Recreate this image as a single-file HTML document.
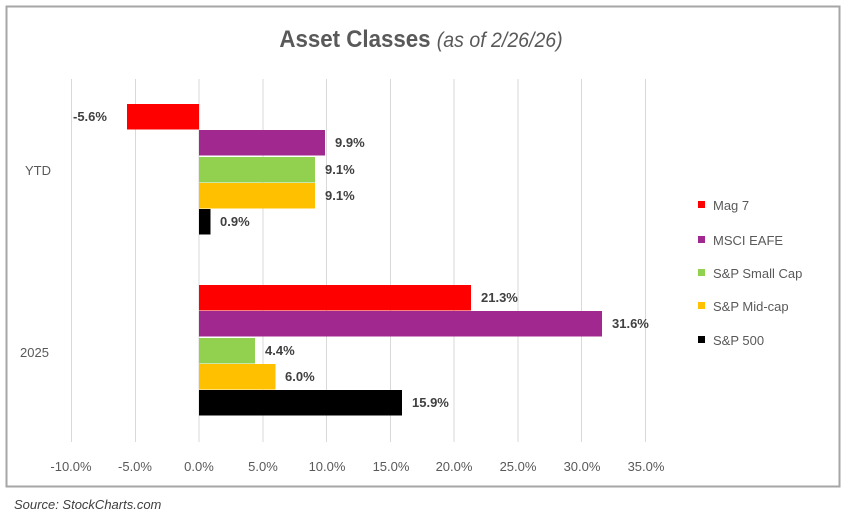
<!DOCTYPE html>
<html><head><meta charset="utf-8"><style>
body{margin:0;background:#fff;}
svg text{font-family:"Liberation Sans",sans-serif;}
</style></head><body>
<svg width="847" height="519" viewBox="0 0 847 519" xmlns="http://www.w3.org/2000/svg">
<rect x="0" y="0" width="847" height="519" fill="#fff"/>
<rect x="6.5" y="6.5" width="833" height="480" fill="#fff" stroke="#a6a6a6" stroke-width="2"/>
<text x="421" y="47" text-anchor="middle" font-size="24" font-weight="bold" fill="#595959" transform="translate(421,0) scale(0.93,1) translate(-421,0)">Asset Classes <tspan font-weight="normal" font-style="italic" font-size="21">(as of 2/26/26)</tspan></text>
<g stroke="#d9d9d9" stroke-width="1">
<line x1="71.5" y1="79" x2="71.5" y2="442"/><line x1="135.5" y1="79" x2="135.5" y2="442"/>
<line x1="199" y1="79" x2="199" y2="442"/><line x1="263" y1="79" x2="263" y2="442"/>
<line x1="326.5" y1="79" x2="326.5" y2="442"/><line x1="390.5" y1="79" x2="390.5" y2="442"/>
<line x1="454" y1="79" x2="454" y2="442"/><line x1="518" y1="79" x2="518" y2="442"/>
<line x1="581.5" y1="79" x2="581.5" y2="442"/><line x1="645.5" y1="79" x2="645.5" y2="442"/>
</g>
<g font-size="13" fill="#595959" text-anchor="middle">
<text x="71" y="471">-10.0%</text><text x="135" y="471">-5.0%</text><text x="199" y="471">0.0%</text>
<text x="263" y="471">5.0%</text><text x="327" y="471">10.0%</text><text x="391" y="471">15.0%</text>
<text x="454" y="471">20.0%</text><text x="518" y="471">25.0%</text><text x="582" y="471">30.0%</text>
<text x="646" y="471">35.0%</text>
</g>
<g font-size="13" fill="#595959">
<text x="25" y="175">YTD</text><text x="20" y="357">2025</text>
</g>
<g>
<rect x="127" y="104" width="72" height="25.5" fill="#ff0000"/>
<rect x="199" y="130" width="126" height="25.5" fill="#a0288f"/>
<rect x="199" y="157" width="116" height="25.5" fill="#92d050"/>
<rect x="199" y="183" width="116" height="25.5" fill="#ffc000"/>
<rect x="199" y="209" width="11.5" height="25.5" fill="#000"/>
<rect x="199" y="285" width="272" height="25.5" fill="#ff0000"/>
<rect x="199" y="311" width="403" height="25.5" fill="#a0288f"/>
<rect x="199" y="338" width="56" height="25.5" fill="#92d050"/>
<rect x="199" y="364" width="76.5" height="25.5" fill="#ffc000"/>
<rect x="199" y="390" width="203" height="25.5" fill="#000"/>
</g>
<g font-size="13" font-weight="bold" fill="#404040">
<text x="73" y="121">-5.6%</text>
<text x="335" y="147">9.9%</text>
<text x="325" y="174">9.1%</text>
<text x="325" y="200">9.1%</text>
<text x="220" y="226">0.9%</text>
<text x="481" y="302">21.3%</text>
<text x="612" y="328">31.6%</text>
<text x="265" y="355">4.4%</text>
<text x="285" y="381">6.0%</text>
<text x="412" y="407">15.9%</text>
</g>
<g font-size="13" fill="#595959">
<rect x="698" y="201" width="7" height="7" fill="#ff0000"/><text x="713" y="210">Mag 7</text>
<rect x="698" y="236" width="7" height="7" fill="#a0288f"/><text x="713" y="245">MSCI EAFE</text>
<rect x="698" y="269" width="7" height="7" fill="#92d050"/><text x="713" y="278">S&amp;P Small Cap</text>
<rect x="698" y="302" width="7" height="7" fill="#ffc000"/><text x="713" y="311">S&amp;P Mid-cap</text>
<rect x="698" y="336" width="7" height="7" fill="#000"/><text x="713" y="345">S&amp;P 500</text>
</g>
<text x="14" y="509" font-size="13" font-style="italic" fill="#404040">Source:  StockCharts.com</text>
</svg>
</body></html>
